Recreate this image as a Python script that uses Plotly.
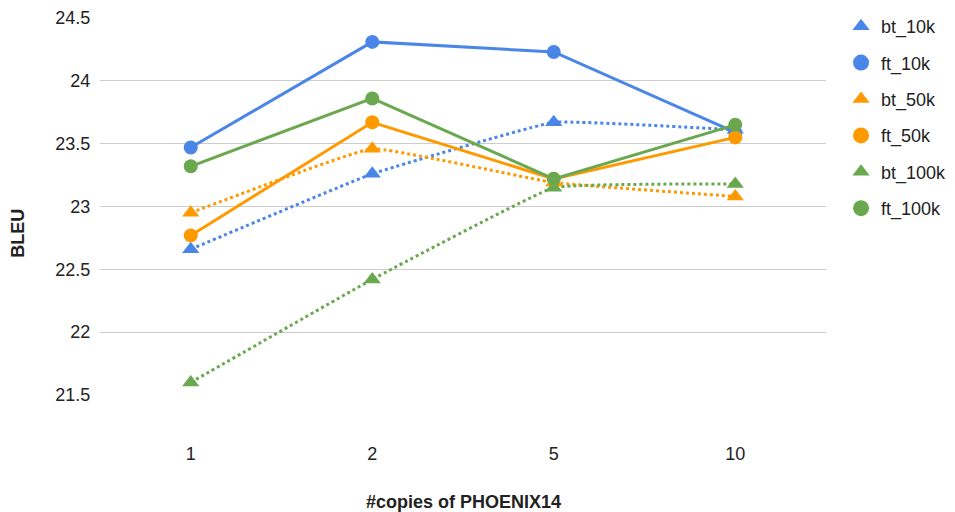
import plotly.graph_objects as go

categories = ["1", "2", "5", "10"]
bt_10k = [22.66, 23.26, 23.67, 23.61]
ft_10k = [23.47, 24.31, 24.23, 23.59]
bt_50k = [22.95, 23.46, 23.19, 23.08]
ft_50k = [22.77, 23.67, 23.22, 23.55]
bt_100k = [21.60, 22.42, 23.15, 23.18]
ft_100k = [23.32, 23.86, 23.22, 23.65]

BLUE = "#4a86e8"
ORANGE = "#ff9900"
GREEN = "#6aa84f"

series = [
    ("bt_10k", bt_10k, BLUE, "triangle-up", "dot"),
    ("ft_10k", ft_10k, BLUE, "circle", "solid"),
    ("bt_50k", bt_50k, ORANGE, "triangle-up", "dot"),
    ("ft_50k", ft_50k, ORANGE, "circle", "solid"),
    ("bt_100k", bt_100k, GREEN, "triangle-up", "dot"),
    ("ft_100k", ft_100k, GREEN, "circle", "solid"),
]

FONT = "Liberation Sans, Arial, sans-serif"
TXT = "#222222"

fig = go.Figure()
order = [0, 2, 4, 1, 3, 5]
for i in order:
    name, vals, col, sym, dash = series[i]
    fig.add_trace(go.Scatter(
        x=categories, y=vals, mode="lines+markers", name=name,
        line=dict(color=col, width=3, dash=dash,
                  shape="spline" if dash == "dot" else "linear", smoothing=0.25),
        marker=dict(color=col, symbol=sym, size=14 if sym == "circle" else 15),
        showlegend=False,
    ))
for name, vals, col, sym, dash in series:
    fig.add_trace(go.Scatter(
        x=[None], y=[None], mode="markers", name=name, legendgroup=name,
        marker=dict(color=col, symbol=sym, size=18 if sym == "circle" else 15),
    ))

fig.update_layout(
    width=955, height=512,
    margin=dict(l=92, r=137, t=10, b=125, autoexpand=False),
    paper_bgcolor="white", plot_bgcolor="white",
    font=dict(family=FONT, size=18, color=TXT),
    xaxis=dict(type="category", range=[-0.5, 3.5], showgrid=False, zeroline=False,
               showline=False, ticks="outside", ticklen=42, tickcolor="rgba(0,0,0,0)",
               tickfont=dict(size=18, color=TXT), automargin=False),
    yaxis=dict(range=[21.5, 24.5], tickvals=[21.5, 22, 22.5, 23, 23.5, 24, 24.5],
               ticktext=["21.5", "22", "22.5", "23", "23.5", "24", "24.5"],
               showgrid=True, gridcolor="#cccccc", gridwidth=1, zeroline=False,
               showline=False, ticks="outside", ticklen=5, tickcolor="rgba(0,0,0,0)",
               tickfont=dict(size=18, color=TXT), automargin=False),
    legend=dict(xref="container", yref="container", x=0.8723, y=1.0195,
                xanchor="left", yanchor="top",
                font=dict(size=18, color=TXT), tracegroupgap=10,
                itemwidth=30, bgcolor="rgba(0,0,0,0)"),
    annotations=[
        dict(text="<b>#copies of PHOENIX14</b>", xref="paper", yref="paper",
             x=0.5, y=-0.2838, xanchor="center", yanchor="middle", showarrow=False,
             font=dict(size=18, color=TXT)),
        dict(text="<b>BLEU</b>", xref="paper", yref="paper", textangle=-90,
             x=-0.113, y=0.43, xanchor="center", yanchor="middle", showarrow=False,
             font=dict(size=18, color=TXT)),
    ],
)

fig.write_html("out.html")
